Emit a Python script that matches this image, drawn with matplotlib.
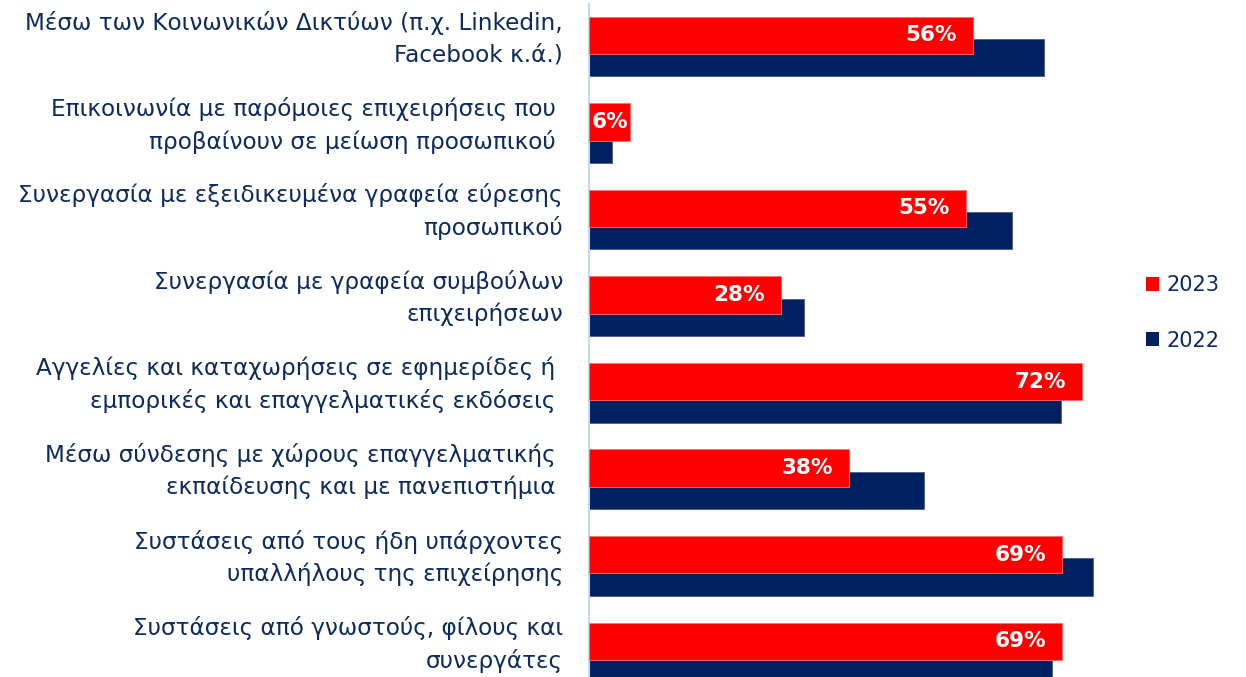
import matplotlib
matplotlib.use("Agg")
import matplotlib.pyplot as plt
from matplotlib.patches import Patch

# Ways of finding staff, share of businesses (%)
categories = [
    "Μέσω των Κοινωνικών Δικτύων (π.χ. Linkedin,\nFacebook κ.ά.)",
    "Επικοινωνία με παρόμοιες επιχειρήσεις που \nπροβαίνουν σε μείωση προσωπικού ",
    "Συνεργασία με εξειδικευμένα γραφεία εύρεσης\nπροσωπικού",
    "Συνεργασία με γραφεία συμβούλων\nεπιχειρήσεων",
    "Αγγελίες και καταχωρήσεις σε εφημερίδες ή \nεμπορικές και επαγγελματικές εκδόσεις ",
    "Μέσω σύνδεσης με χώρους επαγγελματικής \nεκπαίδευσης και με πανεπιστήμια ",
    "Συστάσεις από τους ήδη υπάρχοντες\nυπαλλήλους της επιχείρησης",
    "Συστάσεις από γνωστούς, φίλους και\nσυνεργάτες",
]
values_2023 = [56, 6, 55, 28, 72, 38, 69, 69]
values_2022 = [66.4, 3.4, 61.8, 31.4, 68.9, 48.9, 73.6, 67.6]
series_labels = ["2023", "2022"]

RED = "#FF0000"
NAVY = "#002060"
TEXT = "#0D2B5E"
AXIS = "#C5D9F1"

W, H, DPI = 1246, 677, 100
fig = plt.figure(figsize=(W / DPI, H / DPI), dpi=DPI)
ax = fig.add_axes([589 / W, 0, (1110 - 589) / W, 1 - 4 / H])

y = list(range(len(categories)))
bar_h = 0.428
shift = 0.13

ax.barh([v + shift for v in y], values_2022, height=bar_h, color=NAVY,
        edgecolor="#4a5f8a", linewidth=0.6, zorder=2)
ax.barh([v - shift for v in y], values_2023, height=bar_h, color=RED,
        edgecolor="#ff7070", linewidth=0.6, zorder=3)

ax.set_xlim(0, 76.06)
ax.set_ylim(7.286, -0.494)

for s in ["top", "right", "bottom"]:
    ax.spines[s].set_visible(False)
ax.spines["left"].set_color(AXIS)
ax.spines["left"].set_linewidth(1.5)
ax.set_xticks([])
ax.set_yticks([])

# value labels inside the end of the 2023 bars
for yi, v in zip(y, values_2023):
    if v < 10:
        ax.annotate(f"{v:g}%", xy=(0, yi - shift), xytext=(3, 0),
                    textcoords="offset pixels", ha="left", va="center",
                    color="white", fontweight="bold", fontsize=15.5, zorder=4)
    else:
        ax.annotate(f"{v:g}%", xy=(v, yi - shift), xytext=(-16, 0),
                    textcoords="offset pixels", ha="right", va="center",
                    color="white", fontweight="bold", fontsize=15.5, zorder=4)

# category labels to the left of the axis
for yi, lab in zip(y, categories):
    ax.annotate(lab, xy=(0, yi), xycoords=("axes fraction", "data"),
                xytext=(-26, 8), textcoords="offset pixels",
                ha="right", va="center", multialignment="right",
                color=TEXT, fontsize=16.7, linespacing=1.45)

handles = [Patch(facecolor=RED), Patch(facecolor=NAVY)]
fig.legend(handles, series_labels, loc="center left",
           bbox_to_anchor=(1127 / W, 1 - 313 / H), frameon=False,
           handlelength=0.65, handleheight=0.65, handletextpad=0.35,
           labelspacing=1.7, fontsize=15, labelcolor=TEXT)

fig.savefig("out.png", dpi=DPI, facecolor="white")
